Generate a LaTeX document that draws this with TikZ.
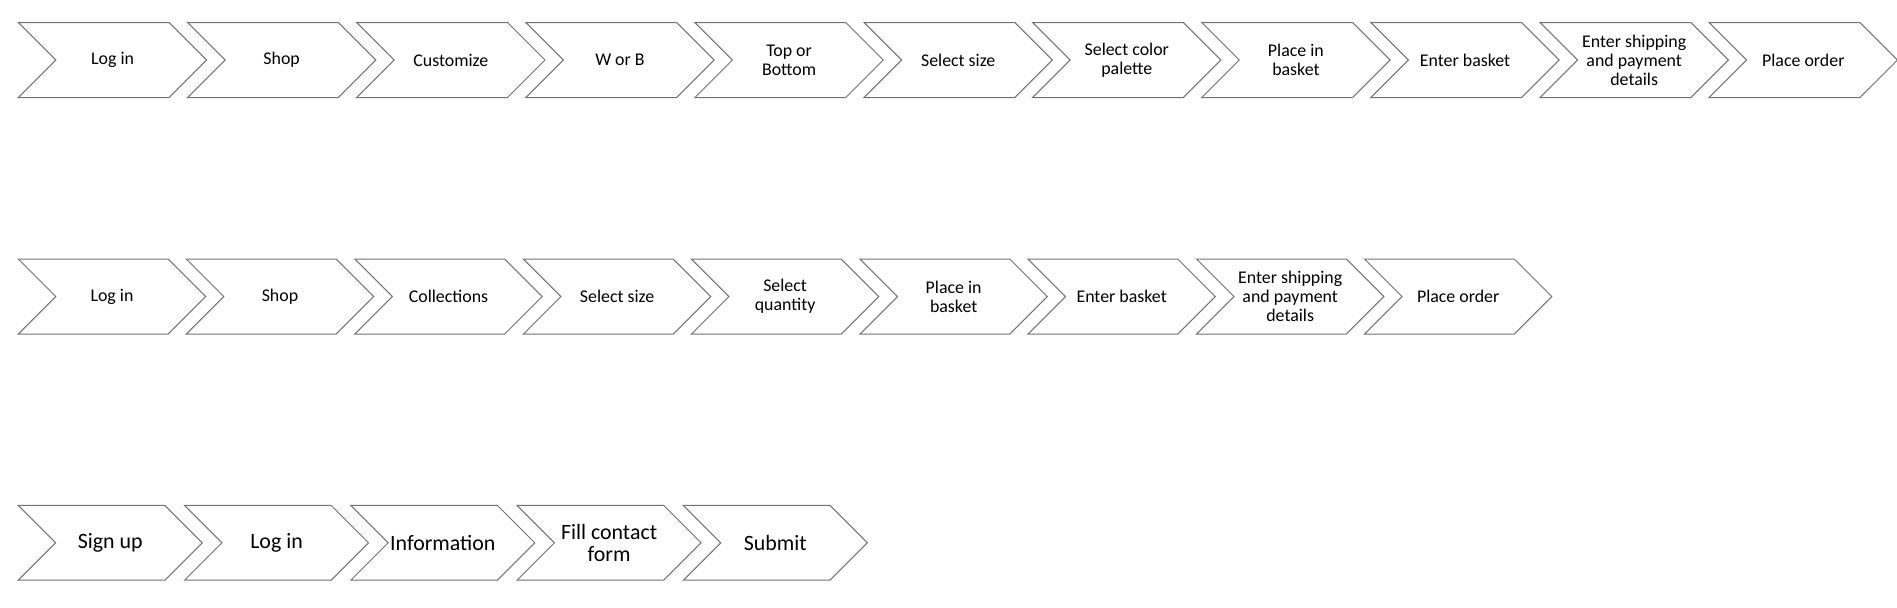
\documentclass[tikz,border=0pt]{standalone}
\usepackage{fontspec}
\setmainfont{Carlito}
\usetikzlibrary{shapes.symbols}

\begin{document}
\begin{tikzpicture}[
    chev/.style = {signal, signal to=east, signal from=west, signal pointer angle=90, draw=black!55, line width=0.5pt, fill=white, inner sep=0pt, align=center, minimum width=3.295cm, minimum height=1.3125cm, font=\fontsize{8.9}{9.5}\selectfont},
    chevb/.style = {chev, minimum width=3.278cm},
    chevc/.style = {chev, minimum width=3.22cm, minimum height=1.307cm, font=\fontsize{10.9}{10.6}\selectfont}
]
    \useasboundingbox (0,0) rectangle (33.2,-10.64);

    % first flow: customised item
    \node[chev] (a1) at (1.97, -1.05) {Log in};
    \node[chev] (a2) at (4.93, -1.05) {Shop};
    \node[chev] (a3) at (7.89, -1.05) {Customize};
    \node[chev] (a4) at (10.85, -1.05) {W or B};
    \node[chev] (a5) at (13.81, -1.05) {Top or\\Bottom};
    \node[chev] (a6) at (16.77, -1.05) {Select size};
    \node[chev] (a7) at (19.72, -1.05) {Select color\\palette};
    \node[chev] (a8) at (22.68, -1.05) {Place in\\basket};
    \node[chev] (a9) at (25.64, -1.05) {Enter basket};
    \node[chev] (a10) at (28.60, -1.05) {Enter shipping\\and payment\\details};
    \node[chev] (a11) at (31.56, -1.05) {Place order};

    % second flow: collections
    \node[chevb] (b1) at (1.96, -5.19) {Log in};
    \node[chevb] (b2) at (4.90, -5.19) {Shop};
    \node[chevb] (b3) at (7.85, -5.19) {Collections};
    \node[chevb] (b4) at (10.80, -5.19) {Select size};
    \node[chevb] (b5) at (13.74, -5.19) {Select\\quantity};
    \node[chevb] (b6) at (16.69, -5.19) {Place in\\basket};
    \node[chevb] (b7) at (19.63, -5.19) {Enter basket};
    \node[chevb] (b8) at (22.58, -5.19) {Enter shipping\\and payment\\details};
    \node[chevb] (b9) at (25.52, -5.19) {Place order};

    % third flow: contact
    \node[chevc] (c1) at (1.93, -9.50) {Sign up};
    \node[chevc] (c2) at (4.84, -9.50) {Log in};
    \node[chevc] (c3) at (7.75, -9.50) {Information};
    \node[chevc] (c4) at (10.66, -9.50) {Fill contact\\form};
    \node[chevc] (c5) at (13.57, -9.50) {Submit};
\end{tikzpicture}
\end{document}
